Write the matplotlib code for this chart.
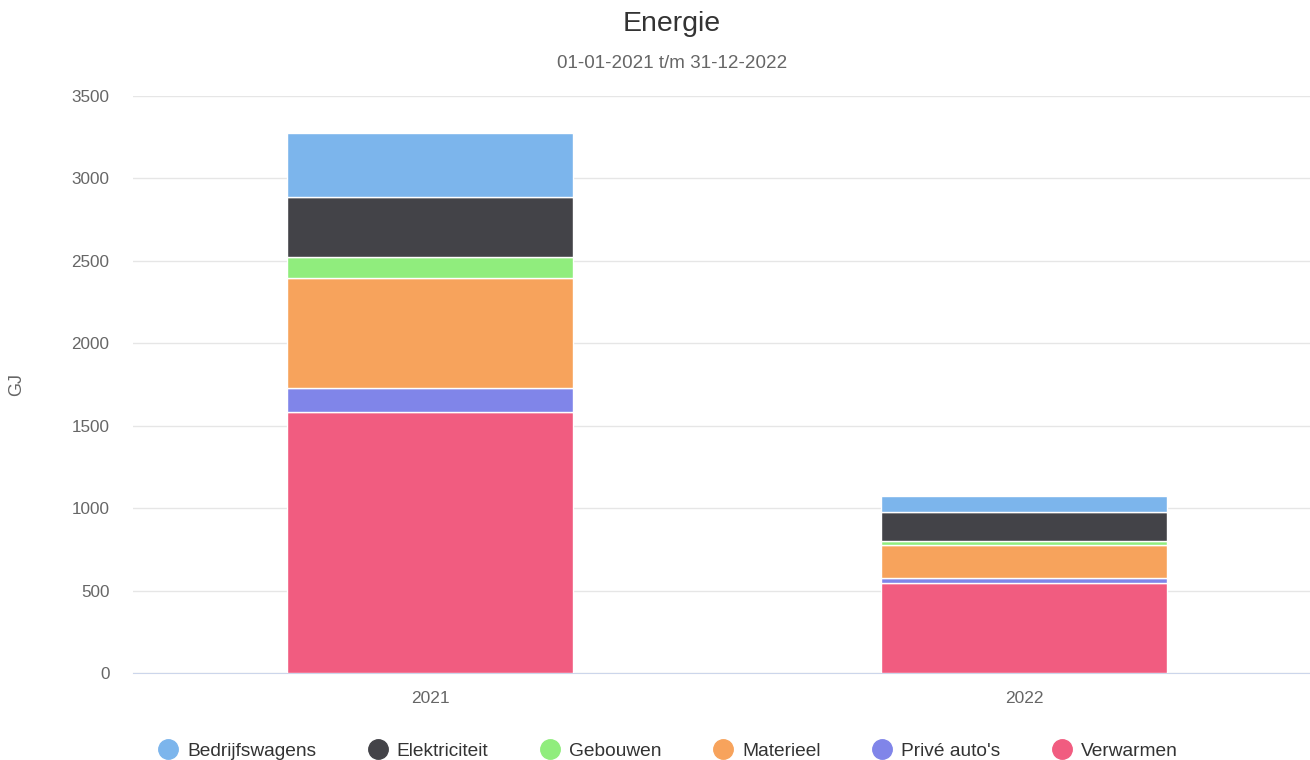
import matplotlib.pyplot as plt
from matplotlib.lines import Line2D
import numpy as np

plt.rcParams['font.family'] = ['Liberation Sans', 'DejaVu Sans']

# data (GJ)
years = ['2021', '2022']
series = ['Verwarmen', "Privé auto's", 'Materieel', 'Gebouwen', 'Elektriciteit', 'Bedrijfswagens']
verwarmen = [1583, 544]
prive = [146, 34]
materieel = [667, 197]
gebouwen = [127, 26]
elektriciteit = [364, 176]
bedrijfswagens = [389, 99]
colors = ['#f15c80', '#8085e9', '#f7a35c', '#90ed7d', '#434348', '#7cb5ec']

values = [verwarmen, prive, materieel, gebouwen, elektriciteit, bedrijfswagens]

fig = plt.figure(figsize=(13.1, 7.6), dpi=100)
ax = fig.add_axes([133 / 1310, 1 - 673 / 760, 1188 / 1310, 577 / 760])

x = np.arange(len(years))
bottom = np.zeros(len(years))
for name, vals, c in zip(series, values, colors):
    ax.bar(x, vals, bottom=bottom, width=0.48, color=c, edgecolor='white',
           linewidth=1, label=name, zorder=3)
    bottom += np.array(vals)

ax.set_xlim(-0.5, 1.5)
ax.set_ylim(0, 3500)
ax.set_yticks(range(0, 3501, 500))
ax.set_xticks(x)
ax.set_xticklabels(years)
ax.grid(axis='y', color='#e6e6e6', linewidth=1, zorder=0)
for s in ['top', 'right', 'left']:
    ax.spines[s].set_visible(False)
ax.spines['bottom'].set_color('#ccd6eb')
ax.tick_params(axis='both', length=0, colors='#666666')
ax.tick_params(axis='y', pad=17, labelsize=12.3)
ax.tick_params(axis='x', pad=13, labelsize=12.5)
ax.set_ylabel('GJ', fontsize=13, color='#666666')
ax.yaxis.set_label_coords(25 / 1310, 1 - 384 / 760, transform=fig.transFigure)

fig.text(672 / 1310, 1 - 24 / 760, 'Energie', ha='center', va='center', fontsize=20.5, color='#333333')
fig.text(672 / 1310, 1 - 63 / 760, '01-01-2021 t/m 31-12-2022', ha='center', va='center', fontsize=13.6, color='#666666')

# legend in Highcharts order
order = ['Bedrijfswagens', 'Elektriciteit', 'Gebouwen', 'Materieel', "Privé auto's", 'Verwarmen']
cmap = dict(zip(series, colors))
handles = [Line2D([0], [0], marker='o', linestyle='', markersize=14,
                  markerfacecolor=cmap[n], markeredgecolor=cmap[n]) for n in order]
fig.legend(handles, order, loc='center', bbox_to_anchor=(668 / 1310, 1 - 751 / 760),
           ncol=6, frameon=False, fontsize=13.8, handlelength=1.0, handletextpad=0.5,
           columnspacing=2.7, labelcolor='#333333')

fig.savefig('out.png', dpi=100)
